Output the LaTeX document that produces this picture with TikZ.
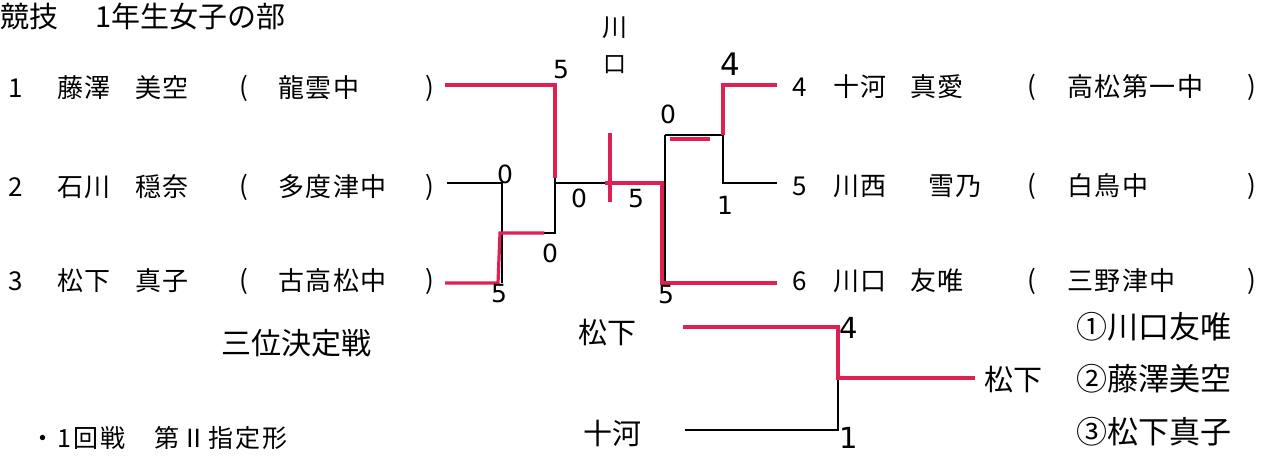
\documentclass[tikz,border=0pt]{standalone}
\usepackage{fontspec}
\usetikzlibrary{calc}
\newfontfamily\jp{Noto Sans CJK JP}
\newfontfamily\jprow[LetterSpace=6]{Noto Sans CJK JP}
\newfontfamily\jpnote[LetterSpace=8]{Noto Sans CJK JP}
\newfontfamily\handdig{DejaVu Sans}
\definecolor{mred}{RGB}{222,32,82}
\tikzset{
  rowtxt/.style={anchor=west, inner sep=0pt, font=\jprow\fontsize{26}{26}\selectfont},
  par/.style={inner sep=0pt, font=\jp\fontsize{26}{26}\selectfont},
  hand/.style={inner sep=0pt, font=\handdig\fontsize{25}{25}\selectfont},
  handjp/.style={inner sep=0pt, font=\jp\fontsize{29}{29}\selectfont},
  thinline/.style={draw=black, line width=1.1pt},
  winline/.style={draw=mred, line width=3.2pt},
}
\begin{document}
\begin{tikzpicture}[x=1pt, y=-1pt]
\useasboundingbox[fill=white] (0,0) rectangle (1269,456);
% title
\node[anchor=west, inner sep=0pt, font=\jp\fontsize{29}{29}\selectfont] (t1) at (0,16) {競技};
\node[anchor=west, inner sep=0pt, font=\jp\fontsize{29}{29}\selectfont] (t2) at (95,16) {1年生女子の部};
% left rows
\node[rowtxt] (n1) at (8,88) {1};
\node[rowtxt] (a1) at (57,88) {藤澤};
\node[rowtxt] (b1) at (135,88) {美空};
\node[par] (l1) at (244,88) {(};
\node[rowtxt] (s1) at (278,88) {龍雲中};
\node[par] (r1) at (430,88) {)};
\node[rowtxt] (n2) at (8,187) {2};
\node[rowtxt] (a2) at (57,187) {石川};
\node[rowtxt] (b2) at (135,187) {穏奈};
\node[par] (l2) at (244,187) {(};
\node[rowtxt] (s2) at (278,187) {多度津中};
\node[par] (r2) at (430,187) {)};
\node[rowtxt] (n3) at (8,281) {3};
\node[rowtxt] (a3) at (57,281) {松下};
\node[rowtxt] (b3) at (135,281) {真子};
\node[par] (l3) at (244,281) {(};
\node[rowtxt] (s3) at (278,281) {古高松中};
\node[par] (r3) at (430,281) {)};
% right rows
\node[rowtxt] (n4) at (792,87) {4};
\node[rowtxt] (a4) at (833,87) {十河};
\node[rowtxt] (b4) at (910,87) {真愛};
\node[par] (l4) at (1032,87) {(};
\node[rowtxt] (s4) at (1067,87) {高松第一中};
\node[par] (r4) at (1252,87) {)};
\node[rowtxt] (n5) at (792,186) {5};
\node[rowtxt] (a5) at (833,186) {川西};
\node[rowtxt] (b5) at (928,186) {雪乃};
\node[par] (l5) at (1032,186) {(};
\node[rowtxt] (s5) at (1067,186) {白鳥中};
\node[par] (r5) at (1252,186) {)};
\node[rowtxt] (n6) at (792,281) {6};
\node[rowtxt] (a6) at (833,281) {川口};
\node[rowtxt] (b6) at (910,281) {友唯};
\node[par] (l6) at (1032,281) {(};
\node[rowtxt] (s6) at (1067,281) {三野津中};
\node[par] (r6) at (1252,281) {)};
% bracket coordinates
\coordinate (p1) at (445,85);
\coordinate (p2) at (447,183);
\coordinate (p3) at (445,283);
\coordinate (q2) at (502,183);
\coordinate (q3) at (502,283);
\coordinate (q23) at (502,233);
\coordinate (u1) at (555,85);
\coordinate (u23) at (555,233);
\coordinate (um) at (555,183);
\coordinate (vm) at (665,183);
\coordinate (v45) at (665,135);
\coordinate (v6) at (665,283);
\coordinate (w45) at (723,135);
\coordinate (w4) at (723,85);
\coordinate (w5) at (723,183);
\coordinate (e4) at (777,85);
\coordinate (e5) at (777,183);
\coordinate (e6) at (777,283);
\coordinate (tk1) at (610,133);
\coordinate (tk2) at (610,202);
% black lines
\draw[thinline] (p2) -- (q2) -- (q3);
\draw[thinline] (u1) -- (u23) -- (q23);
\draw[thinline] (um) -- (vm);
\draw[thinline] (v45) -- (v6);
\draw[thinline] (v45) -- (w45) -- (w4);
\draw[thinline] (w45) -- (w5) -- (e5);
% red marks
\draw[winline] (p1) -- (u1) -- ($(u1)!0.95!(um)$);
\draw[winline] (p3) -- ++(53,0) -- (500,233) -- ($(q23)!0.8!(u23)$);
\draw[winline] (tk1) -- (tk2);
\draw[winline] (605,183) -- (662,183) -- (662,283) -- (e6);
\draw[winline] (670,139) -- (710,139);
\draw[winline] (723,135) -- (w4) -- (e4);
% scores
\node[hand] (sc1) at (561,70) {5};
\node[hand] (sc2) at (505,174) {0};
\node[hand] (sc3) at (499,294) {5};
\node[hand] (sc4) at (550,253) {0};
\node[hand] (sc5) at (579,198) {0};
\node[hand] (sc6) at (636,199) {5};
\node[hand] (sc7) at (668,114) {0};
\node[hand, font=\handdig\fontsize{31}{31}\selectfont] (sc8) at (730,64) {4};
\node[hand] (sc9) at (725,205) {1};
\node[hand] (sc10) at (666,295) {5};
\node[handjp, font=\jp\fontsize{25}{25}\selectfont] (ch1) at (615,28) {川};
\node[handjp, font=\jp\fontsize{23}{23}\selectfont] (ch2) at (615,65) {口};
% third place
\node[inner sep=0pt, font=\jp\fontsize{30}{30}\selectfont] (tp) at (296,343) {三位決定戦};
\node[anchor=west, inner sep=0pt, font=\jpnote\fontsize{25}{25}\selectfont] (note) at (30,438) {・1回戦　第Ⅱ指定形};
\node[handjp] (m1) at (607,333) {松下};
\node[handjp] (m2) at (612,433) {十河};
\node[handjp] (m3) at (1013,380) {松下};
\coordinate (f1) at (683,327);
\coordinate (f2) at (685,430);
\coordinate (g1) at (838,327);
\coordinate (g2) at (838,430);
\coordinate (gm) at (838,378);
\coordinate (h) at (975,378);
\draw[thinline] (f2) -- (g2) -- (g1);
\draw[winline] (f1) -- (g1) -- (gm) -- (h);
\node[hand, font=\handdig\fontsize{29}{29}\selectfont] (sc11) at (849,328) {4};
\node[hand, font=\handdig\fontsize{29}{29}\selectfont] (sc12) at (849,438) {1};
\node[handjp, anchor=west, font=\jp\fontsize{31}{31}\selectfont] (res1) at (1076,327) {①川口友唯};
\node[handjp, anchor=west, font=\jp\fontsize{31}{31}\selectfont] (res2) at (1076,379) {②藤澤美空};
\node[handjp, anchor=west, font=\jp\fontsize{31}{31}\selectfont] (res3) at (1076,432) {③松下真子};
\end{tikzpicture}
\end{document}
